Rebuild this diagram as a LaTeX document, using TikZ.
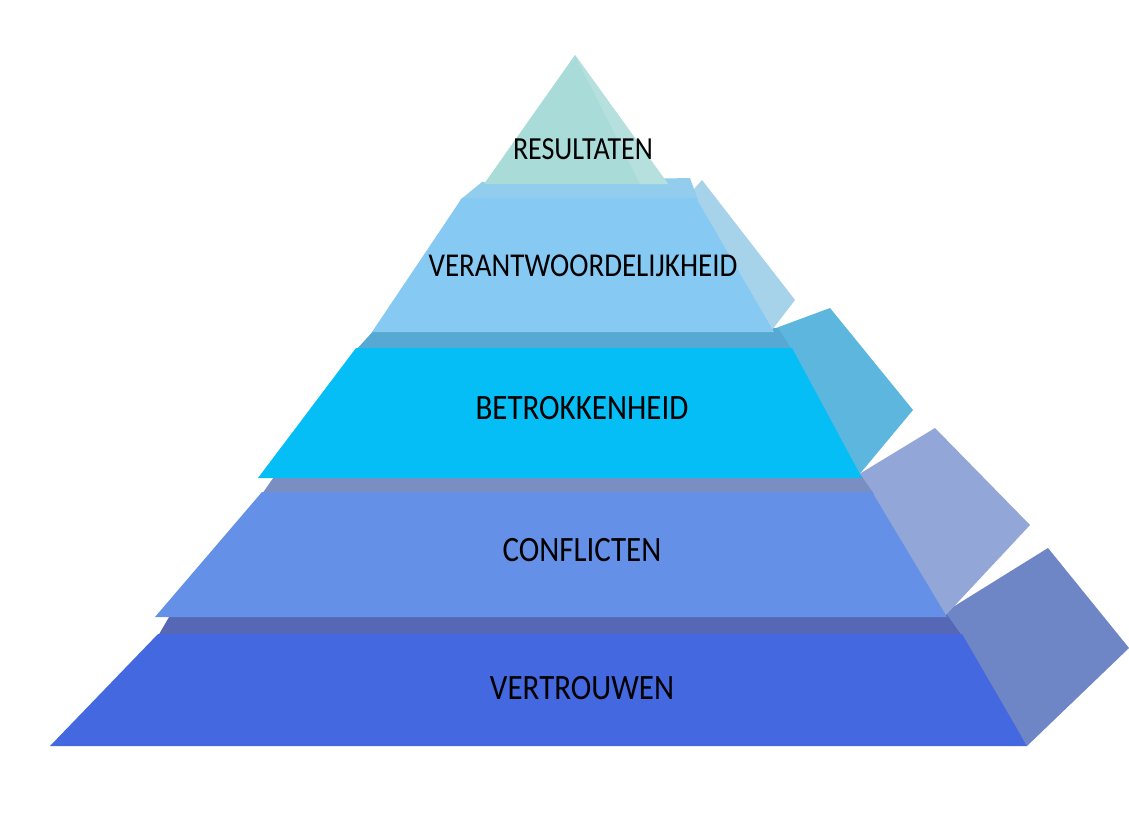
\documentclass[tikz,border=0pt]{standalone}
\usepackage{fontspec}
\usepackage{graphicx}
\setmainfont{Carlito}
\newcommand{\tallt}[1]{\scalebox{1}[1.15]{#1}}
\begin{document}
\begin{tikzpicture}[x=1pt,y=-1pt,
  lbl/.style={font=\fontsize{31}{34}\selectfont, text=black, inner sep=0pt, anchor=center},
  face/.style={draw=none}]
\useasboundingbox (0,0) rectangle (1129,822);
\fill[white] (0,0) rectangle (1129,822);
% colours
\definecolor{t1front}{HTML}{4368E0}
\definecolor{t1top}{HTML}{5567B5}
\definecolor{t1side}{HTML}{6E86C6}
\definecolor{t2front}{HTML}{6490E8}
\definecolor{t2top}{HTML}{7A8EC2}
\definecolor{t2side}{HTML}{93A6D8}
\definecolor{t3front}{HTML}{05BEF6}
\definecolor{t3top}{HTML}{55A9D2}
\definecolor{t3side}{HTML}{5CB6DE}
\definecolor{t4front}{HTML}{86C9F2}
\definecolor{t4top}{HTML}{92CDEE}
\definecolor{t4side}{HTML}{A6D3EA}
\definecolor{t5front}{HTML}{A9DCD9}
\definecolor{t5side}{HTML}{B6E0DE}
% tier 1 (bottom)
\fill[t1side,face] (945,612) -- (1048,548) -- (1129,648) -- (1027,746) -- cycle;
\fill[t1top,face] (158,636) -- (172,612) -- (945,612) -- (962,636) -- cycle;
\fill[t1front,face] (50,746) -- (158,634) -- (962,634) -- (1027,746) -- cycle;
% tier 2
\fill[t2side,face] (856,476) -- (935,428) -- (1030,525) -- (945,616) -- cycle;
\fill[t2top,face] (262,494) -- (276,474) -- (860,474) -- (874,494) -- cycle;
\fill[t2front,face] (155,617) -- (262,492) -- (872,492) -- (947,617) -- cycle;
% tier 3
\fill[t3side,face] (776,328) -- (830,308) -- (913,410) -- (858,476) -- cycle;
\fill[t3top,face] (356,350) -- (376,328) -- (778,328) -- (792,350) -- cycle;
\fill[t3front,face] (258,478) -- (356,348) -- (792,348) -- (862,478) -- cycle;
% tier 4
\fill[t4side,face] (688,196) -- (702,180) -- (795,300) -- (772,330) -- cycle;
\fill[t4top,face] (460,200) -- (482,182) -- (690,178) -- (698,200) -- cycle;
\fill[t4front,face] (372,332) -- (462,198) -- (696,198) -- (774,332) -- cycle;
% tier 5 (top)
\fill[t5front,face] (484,184) -- (575,55) -- (668,184) -- cycle;
\fill[t5side,face] (575,55) -- (668,184) -- (640,184) -- cycle;
% labels
\node[lbl, font=\fontsize{28}{32}\selectfont] (res) at (583,149) {\tallt{RESULTATEN}};
\node[lbl, font=\fontsize{29}{32}\selectfont] (ver) at (583,266) {\tallt{VERANTWOORDELIJKHEID}};
\node[lbl] (bet) at (582,408) {\tallt{BETROKKENHEID}};
\node[lbl] (con) at (582,550) {\tallt{CONFLICTEN}};
\node[lbl] (vtr) at (582,688) {\tallt{VERTROUWEN}};
\end{tikzpicture}
\end{document}
